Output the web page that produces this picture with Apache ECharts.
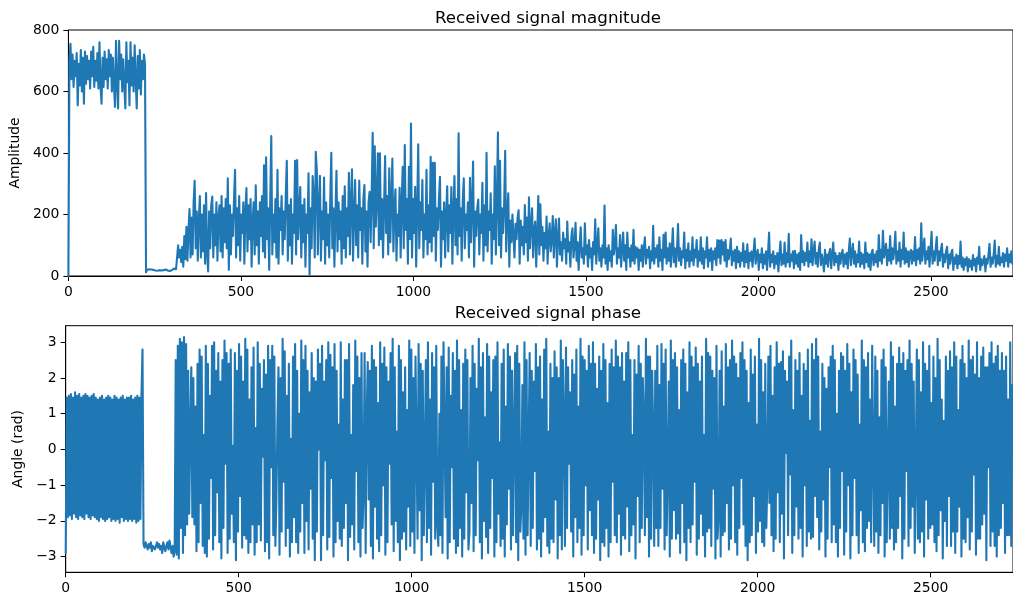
<!DOCTYPE html>
<html>
<head>
<meta charset="utf-8">
<script src="https://cdn.jsdelivr.net/npm/echarts@6/dist/echarts.min.js"></script>
<style>html,body{margin:0;padding:0;background:#fff}#c{width:1013px;height:598px}</style>
</head>
<body>
<div id="c"></div>
<script>
// sample spacing of the arrays below (sample index = i * step)
const step = 3;
const xTicks = [0, 500, 1000, 1500, 2000, 2500];
const phaseTicks = [-3, -2, -1, 0, 1, 2, 3];
const titles = ['Received signal magnitude', 'Received signal phase'];

// one row = 30 samples = 90 sample indices
const magnitude = [
0,700,755,640,720,615,700,650,725,555,690,620,735,600,710,560,730,625,715,640,700,610,730,650,745,615,700,635,725,610,
760,620,560,710,615,730,640,705,610,735,650,720,600,710,620,550,765,625,545,765,640,720,600,705,620,545,760,630,700,555,
760,620,710,600,750,640,545,715,610,735,590,700,640,720,690,12,20,17,22,18,21,16,20,23,18,21,17,22,19,20,
18,22,19,17,21,23,18,20,16,22,19,21,24,18,22,25,100,60,85,45,95,30,130,55,160,50,150,218,60,190,
70,240,310,90,210,50,180,260,60,200,80,230,40,270,70,15,210,90,230,258,60,200,100,240,50,190,230,80,260,60,
220,110,250,90,318,20,230,70,200,130,250,345,60,220,100,260,50,200,140,240,40,210,286,80,230,120,250,30,180,240,
70,295,100,210,40,240,130,260,80,360,60,386,120,220,20,240,455,70,200,110,250,60,345,40,220,150,260,70,210,120,
260,375,50,230,100,250,40,200,140,375,70,377,120,210,289,60,230,110,250,30,200,140,334,5,220,90,325,263,60,404,
345,70,230,326,50,210,120,320,40,240,100,200,60,250,401,90,220,30,200,342,80,240,120,210,40,260,90,292,60,220,
130,336,70,240,347,50,200,312,100,230,60,310,150,220,40,250,296,80,210,30,240,274,110,260,466,90,422,160,250,399,
100,399,120,250,60,230,390,140,260,70,350,110,240,382,80,220,282,50,200,130,287,60,240,355,90,426,150,250,40,355,
120,496,60,250,140,290,30,220,428,90,240,150,312,60,200,120,345,70,230,110,388,80,368,130,368,50,220,150,250,323,
30,210,120,240,60,200,292,80,230,140,289,40,210,325,100,250,70,464,130,220,50,240,318,90,200,150,240,60,319,110,
230,372,30,210,130,220,249,70,200,140,303,50,230,100,401,80,210,150,269,40,200,120,357,70,240,467,100,375,60,220,
140,230,407,80,200,269,30,180,110,200,204,60,170,120,190,214,40,180,100,160,70,231,110,190,50,256,90,170,220,60,
150,177,30,140,260,70,233,100,160,50,140,90,193,40,130,171,80,120,195,60,140,184,30,120,187,70,110,50,141,90,
120,40,177,80,110,30,130,155,60,100,173,50,110,20,100,158,60,90,40,171,70,100,30,117,60,90,20,110,70,184,
40,100,155,50,90,30,100,60,229,40,90,20,100,50,80,30,150,70,100,166,40,90,60,133,30,90,141,50,100,20,
141,60,90,30,100,50,150,40,95,60,90,20,85,50,100,30,90,126,40,85,60,95,25,80,50,163,40,90,60,100,
30,126,50,85,20,134,60,141,40,90,50,106,30,85,155,45,90,30,80,169,50,90,35,80,60,141,25,85,50,106,
30,80,50,126,35,85,60,117,30,80,50,126,40,90,25,80,60,126,30,85,50,90,20,80,55,90,35,117,60,115,
40,117,70,110,50,117,30,85,55,80,122,35,80,50,85,25,95,45,80,30,75,50,106,30,80,45,103,25,75,50,
80,30,75,122,40,70,85,20,70,45,90,25,70,40,80,20,75,141,30,70,45,80,25,65,40,75,15,70,112,35,
70,40,109,30,75,45,137,30,70,50,80,25,82,40,70,30,75,20,133,45,80,35,75,50,109,30,80,45,119,35,
80,112,40,75,30,85,109,35,70,50,15,85,40,70,30,75,88,25,70,109,35,75,45,65,20,75,40,70,85,30,
70,40,75,25,80,122,35,75,105,40,80,30,70,45,112,30,75,40,70,25,109,45,75,30,70,20,75,85,35,70,
45,80,30,133,50,85,40,147,60,80,105,35,85,50,130,40,90,55,85,144,40,80,50,109,30,85,55,141,40,90,
45,80,30,75,85,40,80,50,127,35,85,55,90,40,171,50,90,122,40,80,55,95,30,85,144,40,80,50,90,127,
35,80,50,85,105,30,70,45,80,95,25,70,40,75,85,20,60,40,70,25,65,40,112,30,60,20,55,35,61,15,
55,30,50,20,68,35,55,15,60,40,95,20,55,35,50,65,15,55,40,70,105,30,60,40,70,115,30,65,40,95,
35,60,45,75,30,70,50,90,30,70,45,80,40
];

const phase = [
-2.9,1.45,-1.9,1.5,-1.85,1.55,-1.95,1.45,-1.8,1.6,-1.9,1.5,-1.95,1.55,-1.85,1.45,-1.9,1.5,-1.95,1.55,-1.8,1.5,-1.9,1.45,-1.95,1.5,-1.85,1.55,-1.9,1.45,
-1.95,1.4,-2.0,1.45,-1.9,1.5,-1.95,1.4,-2.0,1.45,-1.95,1.5,-1.9,1.45,-2.0,1.4,-1.95,1.5,-2.0,1.45,-1.95,1.4,-2.05,1.45,-1.9,1.5,-2.0,1.4,-1.95,1.45,
-2.0,1.45,-1.95,1.5,-2.0,1.4,-1.95,1.45,-2.05,1.5,-2.0,1.45,-1.95,1.5,2.8,-2.65,-2.75,-2.6,-2.7,-2.8,-2.65,-2.75,-2.6,-2.85,-2.7,-2.65,-2.8,-2.7,-2.6,-2.75,
-2.65,-2.8,-2.7,-2.9,-2.6,-2.75,-2.85,-2.7,-2.6,-2.8,-2.55,-2.75,-2.9,-2.7,-3.0,-2.85,2.5,-2.95,2.9,-3.05,3.1,-2.2,3.0,-2.9,3.15,-2.4,2.95,-2.1,2.2,-1.8,
0.5,2.3,-1.9,2.0,-2.1,1.2,-2.85,2.4,-2.6,2.8,-1.5,2.6,-2.7,0.4,-2.9,2.9,-3.0,2.4,-2.5,1.5,-0.8,2.9,-2.8,3.0,-2.4,2.2,-1.2,2.7,-2.6,1.9,
-3.05,2.5,-2.2,3.05,-0.4,2.7,-2.9,2.4,-2.5,2.8,-1.8,0.1,-2.6,2.7,-3.1,2.2,-2.3,2.95,-1.3,2.6,-2.75,1.9,-2.4,3.1,-2.5,2.8,-2.9,1.4,-2.6,2.3,
-2.1,2.85,-2.95,0.6,-2.6,3.0,-2.1,2.4,-2.55,1.7,-0.2,2.5,-2.85,2.1,-2.6,2.9,-3.05,2.5,-0.5,2.9,-2.4,2.6,-2.7,-1.4,0.8,2.3,-2.95,2.0,-2.3,3.1,
-0.9,2.75,-2.7,1.5,-2.2,2.4,-3.0,0.3,-2.6,2.6,-1.9,2.95,-2.6,2.2,-2.9,1.0,-2.3,3.05,-1.5,2.5,-2.9,2.9,-2.0,2.2,-2.8,1.6,-1.1,2.7,-2.5,2.0,
-3.1,1.9,-2.3,2.8,0.0,2.4,-3.1,2.9,-2.4,1.9,-0.3,2.5,-2.8,3.0,-2.45,2.65,-0.8,2.3,-3.0,2.95,-2.6,2.2,-2.0,0.7,-2.5,3.0,-2.7,1.4,-2.2,2.5,
-1.5,2.5,-3.1,2.95,-2.45,0.4,-2.1,1.8,-2.8,3.05,-0.6,2.6,-2.6,2.0,-3.0,2.7,-2.2,-1.2,2.7,-2.9,0.9,2.45,-1.4,2.2,-2.7,2.9,-3.05,2.5,-1.6,2.3,
-2.5,1.3,-2.85,3.0,-2.4,2.4,-1.0,2.85,-2.95,2.3,-2.6,1.9,-0.4,2.7,-2.1,3.1,-2.85,2.3,-2.0,0.5,-2.6,2.9,-3.1,2.5,-2.5,1.6,-2.3,2.3,-2.8,1.1,
-1.6,3.05,-2.7,2.8,-2.3,2.0,-2.9,2.6,0.2,-2.5,2.95,-1.7,2.4,-3.1,2.2,-2.4,-0.2,2.5,-2.6,3.0,-2.2,1.4,-2.95,2.7,-0.9,2.3,-2.5,2.9,-2.1,-2.7,
1.0,-2.4,2.6,-2.9,3.0,0.6,-1.9,2.3,-3.05,2.85,-2.6,1.5,-0.5,2.7,-2.5,2.2,-2.9,3.05,-2.7,2.5,-2.2,1.1,-3.0,2.4,-2.5,2.8,-1.2,2.5,-2.8,-2.3,
2.0,-1.5,2.9,-2.85,2.4,-2.4,1.7,-0.3,3.1,-2.6,2.3,-3.05,2.7,-2.0,0.9,-2.45,2.95,-2.9,2.6,-2.2,1.6,-0.8,2.5,-3.0,2.6,-2.6,3.0,-1.8,0.2,-2.7,
2.4,-2.5,2.8,-3.0,1.2,-2.1,2.95,-1.1,2.6,-2.8,2.2,-2.4,0.4,2.7,-2.6,2.9,-3.1,2.4,-2.3,-1.6,1.8,-2.5,3.0,-2.95,2.5,-2.4,0.1,2.7,-2.7,2.2,
-2.2,1.9,-0.6,2.95,-2.8,2.3,-2.5,2.6,-3.0,1.4,-2.3,2.8,-1.9,3.1,-2.7,0.5,-2.9,2.4,-2.5,2.0,-2.6,2.75,-1.4,2.3,-3.05,2.0,-2.4,3.05,-2.8,2.5,
0.9,-2.7,2.85,-2.2,2.3,-0.4,1.6,-2.3,2.5,-3.0,2.1,-1.9,2.8,-2.6,1.2,-2.2,3.1,-2.95,2.6,-2.4,2.5,-1.0,2.2,-2.8,2.9,-1.7,2.4,-2.4,3.0,-2.9,
2.4,-2.5,1.7,-1.4,2.6,-3.1,2.2,-2.6,2.95,-2.7,2.5,-2.2,1.3,-3.0,2.4,-2.6,2.8,-0.9,2.3,-2.4,3.05,-2.6,2.6,-1.8,2.3,-2.95,2.7,-2.4,1.9,-2.5,
2.7,-1.6,3.0,-2.85,2.5,-2.4,0.4,-2.1,2.5,-3.05,2.1,-1.3,2.9,-2.6,2.4,-2.2,2.0,0.9,-2.4,3.1,-1.9,2.6,-3.0,2.6,-2.5,2.2,0.6,-2.7,2.2,-2.2,
2.9,-2.7,1.8,-2.2,2.95,-1.1,2.4,-2.8,2.8,-2.4,-0.6,1.9,-3.0,3.05,-2.5,2.5,-1.7,2.7,-2.5,2.3,-2.35,1.1,-2.9,2.5,-1.5,2.8,-2.6,2.4,-3.1,1.6,
-2.2,3.0,-2.6,2.6,-2.1,2.3,-0.9,2.85,-2.95,2.4,-2.5,1.9,-1.8,2.6,-2.4,0.4,-3.0,3.1,-2.3,2.7,-2.2,2.6,-2.7,2.2,-1.1,2.0,-3.05,2.9,-2.5,-1.9,
2.2,-3.0,2.75,-2.4,1.2,-2.3,2.95,-1.5,2.3,-2.8,2.5,-2.5,3.05,-1.0,2.6,-2.6,2.4,-2.95,2.0,-2.2,2.7,-0.8,3.0,-2.1,2.5,-2.7,2.2,-3.1,1.3,-2.6,
2.8,-2.4,2.1,-1.3,2.6,-2.9,0.7,-2.3,3.1,-2.0,2.5,-2.6,1.6,-2.7,2.4,-2.2,-0.9,2.6,-1.5,2.9,-2.4,1.5,-2.85,2.3,-2.5,3.0,-1.2,2.4,-2.6,2.45,
-1.8,2.75,-3.05,2.2,-0.1,1.9,-2.4,2.6,-0.7,3.05,-2.9,1.1,-2.4,2.5,-1.6,2.2,-2.5,2.7,-2.2,1.5,-3.0,2.4,-1.0,2.2,-2.7,2.8,-2.3,0.8,-2.5,2.95,
-2.45,2.5,-1.3,3.1,-1.9,2.6,-2.8,0.5,-2.3,2.4,-1.4,2.0,-3.0,1.7,-2.5,2.3,-0.5,2.6,-2.6,2.9,-2.1,2.5,-2.6,1.0,-3.0,2.2,-2.2,2.7,-0.6,2.6,
-2.95,2.2,-2.3,2.95,-1.0,2.4,-3.05,1.6,-2.4,2.8,-0.8,2.5,-2.4,2.1,-2.9,0.7,-1.7,3.05,-2.6,2.5,-2.85,2.3,-2.2,2.7,-2.0,1.4,-2.6,2.9,-0.2,-2.7,
2.6,-2.3,2.2,-2.9,0.9,-2.4,2.5,-1.5,2.8,-3.0,2.3,-2.6,-0.4,1.9,-2.5,3.0,-2.2,2.6,-2.8,1.2,-2.6,2.4,-2.2,2.85,-1.3,2.4,-3.05,2.7,-2.5,2.2,
-0.6,2.5,-2.7,3.05,-2.2,2.4,-1.6,1.9,-2.9,-0.6,2.8,-2.5,2.5,-2.6,1.6,-2.3,3.0,-3.0,2.4,-1.4,2.2,-2.5,2.9,-2.2,1.3,-2.1,2.6,-2.6,2.0,-2.85,
3.1,-2.4,2.5,-1.7,1.4,-3.05,0.8,-2.0,2.6,-2.7,2.2,-1.3,2.75,-2.7,2.3,-2.3,3.0,-2.9,2.6,-2.3,1.1,-1.6,2.5,-3.0,2.9,-2.5,2.4,-2.6,2.0,-1.9,
3.05,-2.8,2.5,-2.3,2.6,-0.7,2.1,-2.95,3.0,-2.5,2.0,-2.5,2.6,-2.1,2.85,-1.8,2.3,-3.1,2.3,-0.5,2.7,-2.7,3.0,-2.3,2.4,-2.7,2.6,-3.0,2.9,-2.4,
2.2,-2.2,2.7,-1.5,2.2,-2.9,2.6,-2.4,1.4,-2.4,3.0,-2.7,1.8
];

const FONT = 'DejaVu Sans';
const TICK_FS = 13.9;
const minus = v => String(v).replace('-', '\u2212');

function xAxisCfg(gi) {
  return {
    type: 'value', gridIndex: gi, min: 0, max: 2738,
    axisLine: { show: true, onZero: false, lineStyle: { color: '#000', width: 1 } },
    axisTick: { show: true, length: 5, lineStyle: { color: '#000', width: 1 }, customValues: xTicks },
    axisLabel: { color: '#000', fontFamily: FONT, fontSize: TICK_FS, margin: 9, customValues: xTicks,
                 formatter: v => String(v) },
    splitLine: { show: false }
  };
}

const lineStyle = { color: '#1f77b4', width: 2.1, join: 'round', cap: 'round' };

const option = {
  animation: false,
  backgroundColor: '#fff',
  title: [
    { text: titles[0], left: 543, textAlign: 'center', top: 5,
      textStyle: { fontFamily: FONT, fontSize: 16.7, fontWeight: 'normal', color: '#000' } },
    { text: titles[1], left: 543, textAlign: 'center', top: 300,
      textStyle: { fontFamily: FONT, fontSize: 16.7, fontWeight: 'normal', color: '#000' } }
  ],
  grid: [
    { left: 65.7, top: 30, width: 955, height: 246, show: true, borderColor: '#000', borderWidth: 1 },
    { left: 65.7, top: 325.7, width: 955, height: 246.6, show: true, borderColor: '#000', borderWidth: 1 }
  ],
  xAxis: [xAxisCfg(0), xAxisCfg(1)],
  yAxis: [
    {
      type: 'value', gridIndex: 0, min: 0, max: 800, interval: 200,
      name: 'Amplitude', nameLocation: 'middle', nameGap: 43,
      nameTextStyle: { fontFamily: FONT, fontSize: TICK_FS, color: '#000' },
      axisLine: { show: true, onZero: false, lineStyle: { color: '#000', width: 1 } },
      axisTick: { show: true, length: 5, lineStyle: { color: '#000', width: 1 } },
      axisLabel: { color: '#000', fontFamily: FONT, fontSize: TICK_FS, margin: 9 },
      splitLine: { show: false }
    },
    {
      type: 'value', gridIndex: 1, min: -3.44, max: 3.465,
      name: 'Angle (rad)', nameLocation: 'middle', nameGap: 32,
      nameTextStyle: { fontFamily: FONT, fontSize: TICK_FS, color: '#000' },
      axisLine: { show: true, onZero: false, lineStyle: { color: '#000', width: 1 } },
      axisTick: { show: true, length: 5, lineStyle: { color: '#000', width: 1 }, customValues: phaseTicks },
      axisLabel: { color: '#000', fontFamily: FONT, fontSize: TICK_FS, margin: 9, customValues: phaseTicks, formatter: minus },
      splitLine: { show: false }
    }
  ],
  series: [
    {
      type: 'line', xAxisIndex: 0, yAxisIndex: 0, showSymbol: false, sampling: null,
      lineStyle: lineStyle,
      data: magnitude.map((v, i) => [i * step, v])
    },
    {
      type: 'line', xAxisIndex: 1, yAxisIndex: 1, showSymbol: false, sampling: null,
      lineStyle: lineStyle,
      data: phase.map((v, i) => [i * step, v])
    }
  ]
};

const chart = echarts.init(document.getElementById('c'), null, { renderer: 'canvas' });
chart.setOption(option);
</script>
</body>
</html>
